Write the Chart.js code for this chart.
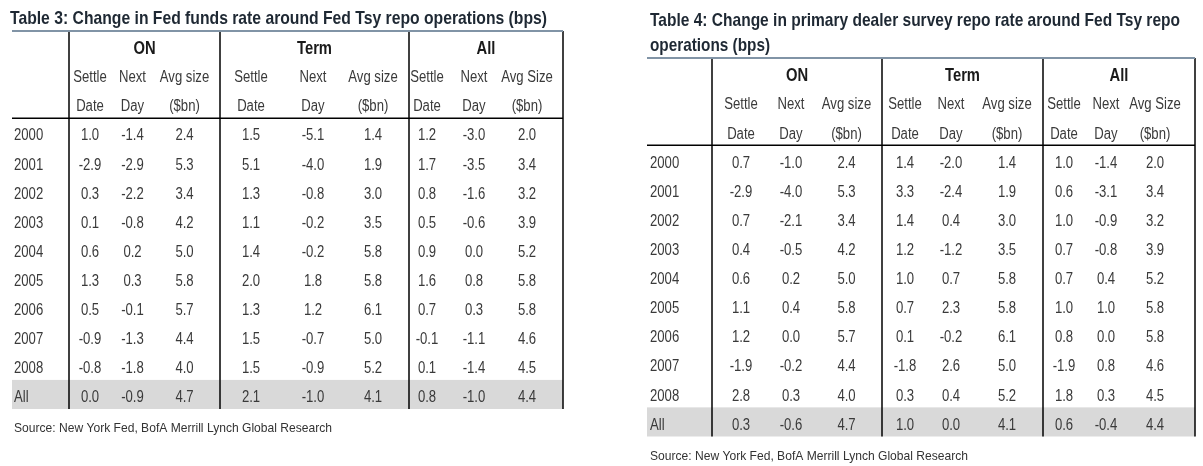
<!DOCTYPE html>
<html><head><meta charset="utf-8">
<script src="https://cdn.jsdelivr.net/npm/chart.js@4"></script>
<style>
html,body{margin:0;padding:0;background:#fff;width:1203px;height:466px;overflow:hidden}
#c3{position:absolute;left:0;top:0}
#c4{position:absolute;left:600px;top:0}
</style>
</head><body>
<canvas id="c3" width="600" height="466"></canvas>
<canvas id="c4" width="603" height="466"></canvas>
<script>
// ---------- DATA ----------
const rowLabels = ['2000','2001','2002','2003','2004','2005','2006','2007','2008','All'];
const groupLabels = ['ON','Term','All'];
const subHeadTop = ['Settle','Next','Avg size','Settle','Next','Avg size','Settle','Next','Avg Size'];
const subHeadBottom = ['Date','Day','($bn)','Date','Day','($bn)','Date','Day','($bn)'];

const t3Title = ['Table 3: Change in Fed funds rate around Fed Tsy repo operations (bps)'];
const t4Title = ['Table 4: Change in primary dealer survey repo rate around Fed Tsy repo', 'operations (bps)'];
const sourceText = 'Source: New York Fed, BofA Merrill Lynch Global Research';

// Table 3
const t3OnSettle   = [1.0, -2.9, 0.3, 0.1, 0.6, 1.3, 0.5, -0.9, -0.8, 0.0];
const t3OnNext     = [-1.4, -2.9, -2.2, -0.8, 0.2, 0.3, -0.1, -1.3, -1.8, -0.9];
const t3OnSize     = [2.4, 5.3, 3.4, 4.2, 5.0, 5.8, 5.7, 4.4, 4.0, 4.7];
const t3TermSettle = [1.5, 5.1, 1.3, 1.1, 1.4, 2.0, 1.3, 1.5, 1.5, 2.1];
const t3TermNext   = [-5.1, -4.0, -0.8, -0.2, -0.2, 1.8, 1.2, -0.7, -0.9, -1.0];
const t3TermSize   = [1.4, 1.9, 3.0, 3.5, 5.8, 5.8, 6.1, 5.0, 5.2, 4.1];
const t3AllSettle  = [1.2, 1.7, 0.8, 0.5, 0.9, 1.6, 0.7, -0.1, 0.1, 0.8];
const t3AllNext    = [-3.0, -3.5, -1.6, -0.6, 0.0, 0.8, 0.3, -1.1, -1.4, -1.0];
const t3AllSize    = [2.0, 3.4, 3.2, 3.9, 5.2, 5.8, 5.8, 4.6, 4.5, 4.4];

// Table 4
const t4OnSettle   = [0.7, -2.9, 0.7, 0.4, 0.6, 1.1, 1.2, -1.9, 2.8, 0.3];
const t4OnNext     = [-1.0, -4.0, -2.1, -0.5, 0.2, 0.4, 0.0, -0.2, 0.3, -0.6];
const t4OnSize     = [2.4, 5.3, 3.4, 4.2, 5.0, 5.8, 5.7, 4.4, 4.0, 4.7];
const t4TermSettle = [1.4, 3.3, 1.4, 1.2, 1.0, 0.7, 0.1, -1.8, 0.3, 1.0];
const t4TermNext   = [-2.0, -2.4, 0.4, -1.2, 0.7, 2.3, -0.2, 2.6, 0.4, 0.0];
const t4TermSize   = [1.4, 1.9, 3.0, 3.5, 5.8, 5.8, 6.1, 5.0, 5.2, 4.1];
const t4AllSettle  = [1.0, 0.6, 1.0, 0.7, 0.7, 1.0, 0.8, -1.9, 1.8, 0.6];
const t4AllNext    = [-1.4, -3.1, -0.9, -0.8, 0.4, 1.0, 0.0, 0.8, 0.3, -0.4];
const t4AllSize    = [2.0, 3.4, 3.2, 3.9, 5.2, 5.8, 5.8, 4.6, 4.5, 4.4];

// ---------- LAYOUT / STYLE ----------
const t3Layout = {
  padding: {left: 12, top: 31, right: 37, bottom: 57},
  width: 551, colX: [78,120.5,172.5,239,301,361,415,462,515], edges: [57,208,397,551], yearX: 2,
  title: {x: 10, baselines: [24], widths: [537]},
  source: {x: 14, baseline: 432, width: 318}
};
const t4Layout = {
  padding: {left: 47, top: 58, right: 8, bottom: 29.5},
  width: 548, colX: [94,144,199.5,258,304,360,417,459,508], edges: [65,235,396,548], yearX: 3,
  title: {x: 50, baselines: [26, 51], widths: [530, 120]},
  source: {x: 50, baseline: 460, width: 318}
};

// font detection (narrow font if installed, else condensed regular)
const probe = document.createElement('canvas').getContext('2d');
probe.font = '16px "Liberation Sans Narrow", monospace';
const wN = probe.measureText('Avg size 2000').width;
probe.font = '16px monospace';
const wM = probe.measureText('Avg size 2000').width;
const HAS_NARROW = Math.abs(wN - wM) > 0.5;
const FAM = HAS_NARROW ? '"Liberation Sans Narrow", "Liberation Sans", Arial, sans-serif' : '"Liberation Sans", Arial, sans-serif';
const COND = HAS_NARROW ? 1 : 0.82;

function drawText(ctx, s, x, y, align, fitW) {
  ctx.save();
  const w = ctx.measureText(s).width;
  const k = fitW ? fitW / w : COND;
  ctx.translate(x, y);
  ctx.scale(k, 1);
  ctx.textAlign = align;
  ctx.textBaseline = 'alphabetic';
  ctx.fillText(s, 0, 0);
  ctx.restore();
}

const tablePlugin = {
  id: 'table',
  beforeDatasetsDraw(chart, args, o) {
    const {ctx, chartArea: a, scales: {y}} = chart;
    const n = rowLabels.length;
    const yt = y.getPixelForValue(n - 1.5), yb = y.getPixelForValue(n - 0.5);
    ctx.save();
    ctx.fillStyle = '#d9d9d9';
    ctx.fillRect(a.left, yt, a.right - a.left, yb - yt);
    ctx.restore();
  },
  afterDatasetsDraw(chart, args, o) {
    const {ctx, chartArea: a, scales: {x, y}} = chart;
    const L = o.layout;
    const off = 2;
    ctx.save();
    // rules
    ctx.strokeStyle = '#000';
    ctx.lineWidth = 1.5;
    L.edges.forEach(e => {
      const px = x.getPixelForValue(e);
      ctx.beginPath(); ctx.moveTo(px, a.top); ctx.lineTo(px, a.bottom); ctx.stroke();
    });
    const hy = y.getPixelForValue(-0.5);
    ctx.beginPath(); ctx.moveTo(a.left, hy); ctx.lineTo(a.right, hy); ctx.stroke();
    ctx.strokeStyle = '#8194a6';
    ctx.lineWidth = 2;
    ctx.beginPath(); ctx.moveTo(a.left, a.top); ctx.lineTo(a.right, a.top); ctx.stroke();

    // group headers
    ctx.fillStyle = '#1a1a1a';
    ctx.font = 'bold 18px ' + FAM;
    groupLabels.forEach((g, i) => {
      const cx = x.getPixelForValue((L.edges[i] + L.edges[i + 1]) / 2);
      drawText(ctx, g, cx, y.getPixelForValue(-3) + off + 18 * 0.358, 'center');
    });
    // sub headers
    ctx.fillStyle = '#3a3a3a';
    ctx.font = '16px ' + FAM;
    subHeadTop.forEach((s, i) => {
      drawText(ctx, s, x.getPixelForValue(L.colX[i]), y.getPixelForValue(-2) + off + 16 * 0.358, 'center');
      drawText(ctx, subHeadBottom[i], x.getPixelForValue(L.colX[i]), y.getPixelForValue(-1) + off + 16 * 0.358, 'center');
    });
    // row labels
    rowLabels.forEach((r, i) => {
      drawText(ctx, r, x.getPixelForValue(L.yearX), y.getPixelForValue(i) + off + 16 * 0.358, 'left');
    });
    // cells
    chart.data.datasets.forEach((ds, di) => {
      const meta = chart.getDatasetMeta(di);
      meta.data.forEach((el, j) => {
        drawText(ctx, ds.data[j].v.toFixed(1), el.x, el.y + off + 16 * 0.358, 'center');
      });
    });
    ctx.restore();
  },
  afterDraw(chart, args, o) {
    const {ctx} = chart;
    const L = o.layout;
    ctx.save();
    ctx.fillStyle = '#1e2833';
    ctx.font = 'bold 19px ' + FAM;
    o.title.forEach((t, i) => drawText(ctx, t, L.title.x, L.title.baselines[i], 'left', L.title.widths[i]));
    ctx.fillStyle = '#333';
    ctx.font = '13px ' + FAM;
    drawText(ctx, sourceText, L.source.x, L.source.baseline, 'left', L.source.width);
    ctx.restore();
  }
};

function makeTable(id, cols, L, title) {
  const datasets = cols.map((vals, c) => ({
    data: vals.map((v, i) => ({x: L.colX[c], y: i, v: v})),
    pointRadius: 0, pointHoverRadius: 0, showLine: false
  }));
  return new Chart(document.getElementById(id), {
    type: 'scatter',
    data: {datasets},
    plugins: [tablePlugin],
    options: {
      responsive: false, animation: false, events: [],
      layout: {padding: L.padding},
      scales: {
        x: {type: 'linear', display: false, min: 0, max: L.width},
        y: {type: 'linear', display: false, min: -3.5, max: rowLabels.length - 0.5, reverse: true}
      },
      plugins: {
        legend: {display: false}, tooltip: {enabled: false},
        table: {layout: L, title: title}
      }
    }
  });
}

makeTable('c3', [t3OnSettle, t3OnNext, t3OnSize, t3TermSettle, t3TermNext, t3TermSize, t3AllSettle, t3AllNext, t3AllSize], t3Layout, t3Title);
makeTable('c4', [t4OnSettle, t4OnNext, t4OnSize, t4TermSettle, t4TermNext, t4TermSize, t4AllSettle, t4AllNext, t4AllSize], t4Layout, t4Title);
</script>
</body></html>
